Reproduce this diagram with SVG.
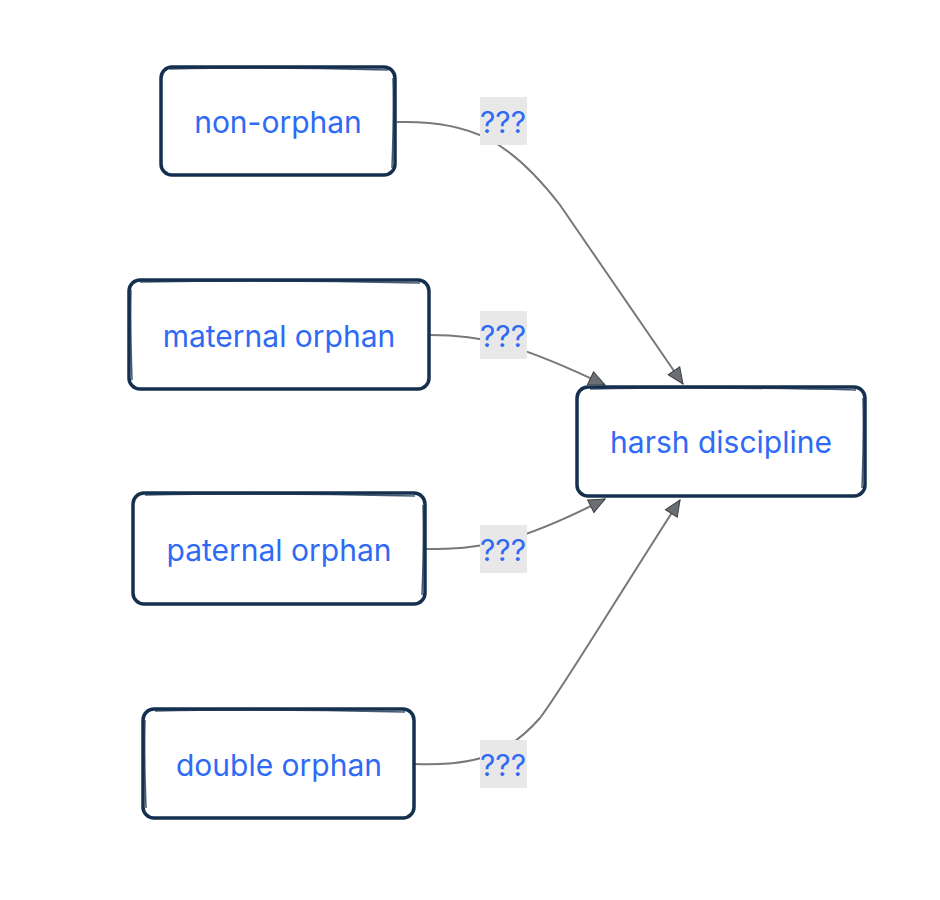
<svg xmlns="http://www.w3.org/2000/svg" width="940" height="900" viewBox="0 0 940 900">
<style>
.box{fill:#fff;stroke:#15304f;stroke-width:3.5;stroke-linejoin:round}
.sk{fill:none;stroke:#15304f;stroke-width:1.5;opacity:.8}
.t{font-family:Inter,"Liberation Sans",sans-serif;font-size:30px;fill:#2f6af5;text-anchor:middle;dominant-baseline:central}
.e{fill:none;stroke:#75787d;stroke-width:2}
.lb{fill:#e8e8e8}
</style>
<defs>
<marker id="ah" viewBox="0 0 18 16" refX="17" refY="8" markerWidth="18" markerHeight="16" markerUnits="userSpaceOnUse" orient="auto">
<path d="M1,1 L17,8 L1,15 Z" fill="#6b6e73" stroke="#3d4045" stroke-width="1"/>
</marker>
</defs>
<rect width="940" height="900" fill="#fff"/>
<g id="connectors">
<path class="e" d="M397,122 C470,120 510,140 560,205 L683,384" marker-end="url(#ah)"/>
<path class="e" d="M430,335 C480,335 515,342 605,385" marker-end="url(#ah)"/>
<path class="e" d="M425,549 C480,549 515,545 605,499" marker-end="url(#ah)"/>
<path class="e" d="M415,764 C470,766 505,758 540,718 C560,692 600,625 680,500" marker-end="url(#ah)"/>
</g>
<g id="non-orphan">
<rect class="box" x="161" y="67" width="234" height="108" rx="11"/>
<path class="sk" d="M170,69 C250,67 320,68 388,70 M393,78 C394,110 393,140 392,168"/>
<text class="t" x="278" y="122">non-orphan</text>
</g>
<g id="maternal-orphan">
<rect class="box" x="129" y="280" width="300" height="109" rx="11"/>
<path class="sk" d="M140,282 C240,280 340,281 420,283 M131,290 C130,320 131,350 132,380"/>
<text class="t" x="279" y="336">maternal orphan</text>
</g>
<g id="paternal-orphan">
<rect class="box" x="133" y="493" width="292" height="111" rx="11"/>
<path class="sk" d="M145,495 C240,493 330,494 415,496 M423,505 C424,540 423,570 422,595"/>
<text class="t" x="279" y="550">paternal orphan</text>
</g>
<g id="double-orphan">
<rect class="box" x="143" y="709" width="271" height="109" rx="11"/>
<path class="sk" d="M155,711 C240,709 320,710 405,712 M145,720 C144,750 145,780 146,808"/>
<text class="t" x="279" y="765">double orphan</text>
</g>
<g id="harsh-discipline">
<rect class="box" x="577" y="387" width="288" height="109" rx="11"/>
<path class="sk" d="M590,389 C680,387 770,388 856,390 M863,398 C864,430 863,460 862,488"/>
<text class="t" x="721" y="442">harsh discipline</text>
</g>
<g id="labels">
<rect class="lb" x="480" y="97" width="47" height="48"/>
<text class="t" x="503" y="122">???</text>
<rect class="lb" x="480" y="311" width="47" height="48"/>
<text class="t" x="503" y="336">???</text>
<rect class="lb" x="480" y="525" width="47" height="48"/>
<text class="t" x="503" y="550">???</text>
<rect class="lb" x="480" y="740" width="47" height="48"/>
<text class="t" x="503" y="765">???</text>
</g>
</svg>
